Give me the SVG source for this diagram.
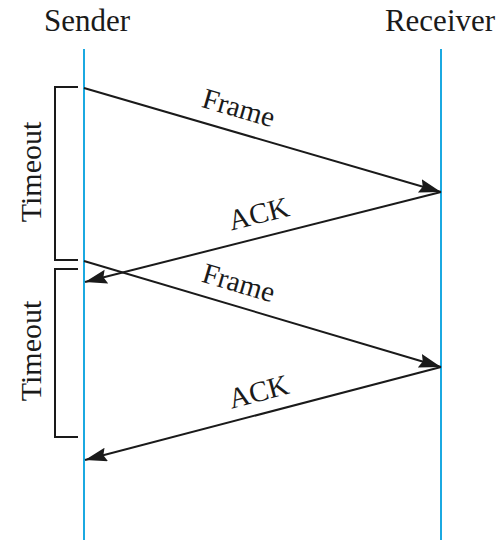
<svg xmlns="http://www.w3.org/2000/svg" width="504" height="540" viewBox="0 0 504 540">
<style>
.life{stroke:#1ba9e1;stroke-width:2;fill:none}
.msg{stroke:#1a1a1a;stroke-width:2;fill:none}
.br{stroke:#1a1a1a;stroke-width:2;fill:none}
text{font-family:"Liberation Serif","DejaVu Serif",serif;fill:#1a1a1a}
.hd{font-size:31px}
.lb{font-size:29px}
.to{font-size:30px}
</style>
<defs>
<marker id="ah" markerUnits="userSpaceOnUse" markerWidth="24" markerHeight="16" refX="22" refY="7" orient="auto">
<path d="M0,0 L22,7 L0,14 L3,7 Z" fill="#1a1a1a"/>
</marker>
</defs>
<rect width="504" height="540" fill="#fff"/>
<g id="sender">
<text class="hd" x="87" y="31" text-anchor="middle">Sender</text>
<line class="life" x1="84" y1="49" x2="84" y2="540"/>
</g>
<g id="receiver">
<text class="hd" x="440" y="31" text-anchor="middle">Receiver</text>
<line class="life" x1="441" y1="49" x2="441" y2="540"/>
</g>
<g id="timeout1">
<path class="br" d="M78,87 H55 V260 H78"/>
<text class="to" transform="translate(41,172) rotate(-90)" text-anchor="middle">Timeout</text>
</g>
<g id="timeout2">
<path class="br" d="M78,269 H55 V437 H78"/>
<text class="to" transform="translate(41,351) rotate(-90)" text-anchor="middle">Timeout</text>
</g>
<g id="connectors">
<line class="msg" x1="84" y1="88" x2="441" y2="192" marker-end="url(#ah)"/>
<line class="msg" x1="441" y1="192" x2="85" y2="282" marker-end="url(#ah)"/>
<line class="msg" x1="84" y1="261" x2="441" y2="367" marker-end="url(#ah)"/>
<line class="msg" x1="441" y1="367" x2="85" y2="460" marker-end="url(#ah)"/>
<text class="lb" transform="translate(236,117) rotate(16.2)" text-anchor="middle">Frame</text>
<text class="lb" transform="translate(261,223) rotate(-14.2)" text-anchor="middle">ACK</text>
<text class="lb" transform="translate(236,292) rotate(16.5)" text-anchor="middle">Frame</text>
<text class="lb" transform="translate(261,401) rotate(-14.6)" text-anchor="middle">ACK</text>
</g>
</svg>
